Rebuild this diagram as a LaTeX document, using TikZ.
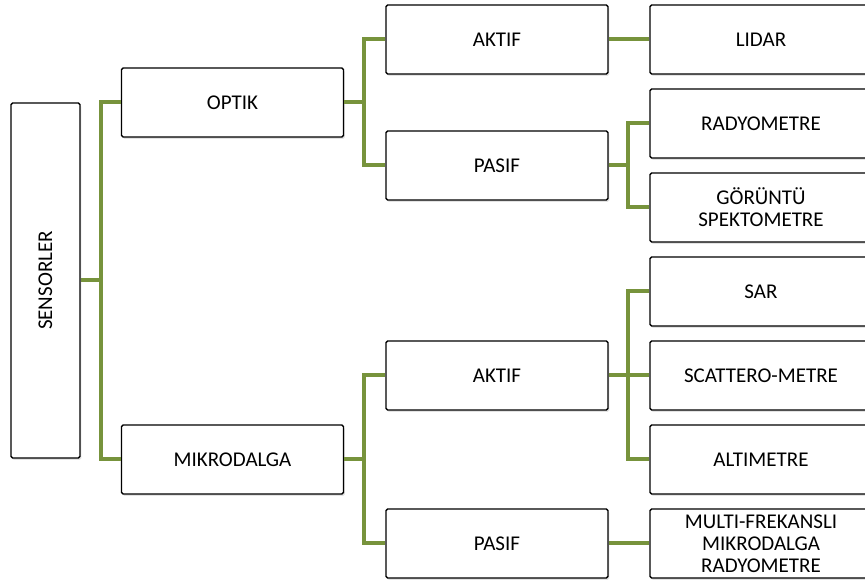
\documentclass[tikz,border=0pt]{standalone}
\usepackage{fontspec}
\setmainfont{Carlito}
\usetikzlibrary{shadows}
\definecolor{busgreen}{HTML}{77933C}

\begin{document}
\begin{tikzpicture}[x=0.75pt,y=-0.75pt,
    box/.style={draw=black,line width=1pt,rounded corners=1.2pt,fill=white,
      minimum width=166.5pt,minimum height=51.75pt,inner sep=1pt,align=center,
      font=\fontsize{15.75}{16.5}\selectfont,
      drop shadow={opacity=0.22,shadow xshift=1pt,shadow yshift=-1.5pt}},
    bus/.style={busgreen,line width=3pt,line join=miter}]
  \useasboundingbox (0,0) rectangle (865,580);
  % first column
  \node[box,rotate=90,minimum width=266.25pt] (sens) at (45.5,280.5) {SENSORLER};
  % second column
  \node[box] (optik) at (232.5,102.5) {OPTIK};
  \node[box] (mikro) at (232.5,459.5) {MIKRODALGA};
  % third column
  \node[box] (aktifo) at (497,39.5) {AKTIF};
  \node[box] (pasifo) at (497,165.5) {PASIF};
  \node[box] (aktifm) at (497,375.5) {AKTIF};
  \node[box] (pasifm) at (497,543.5) {PASIF};
  % fourth column
  \node[box] (lidar) at (761,39.5) {LIDAR};
  \node[box] (rady) at (761,123.5) {RADYOMETRE};
  \node[box] (gor) at (761,207.5) {GÖRÜNTÜ\\SPEKTOMETRE};
  \node[box] (sar) at (761,291.5) {SAR};
  \node[box] (scat) at (761,375.5) {SCATTERO-METRE};
  \node[box] (alti) at (761,459.5) {ALTIMETRE};
  \node[box] (multi) at (761,543.5) {MULTI-FREKANSLI\\MIKRODALGA\\RADYOMETRE};
  % connectors
  \draw[bus] (optik.west) -- ++(-20,0) |- (mikro.west);
  \draw[bus] (sens.south) -- ++(21,0);
  \draw[bus] (aktifo.west) -- ++(-21,0) |- (pasifo.west);
  \draw[bus] (optik.east) -- ++(21,0);
  \draw[bus] (aktifm.west) -- ++(-21,0) |- (pasifm.west);
  \draw[bus] (mikro.east) -- ++(21,0);
  \draw[bus] (aktifo.east) -- (lidar.west);
  \draw[bus] (rady.west) -- ++(-21,0) |- (gor.west);
  \draw[bus] (pasifo.east) -- ++(21,0);
  \draw[bus] (sar.west) -- ++(-21,0) |- (alti.west);
  \draw[bus] (aktifm.east) -- (scat.west);
  \draw[bus] (pasifm.east) -- (multi.west);
\end{tikzpicture}
\end{document}
